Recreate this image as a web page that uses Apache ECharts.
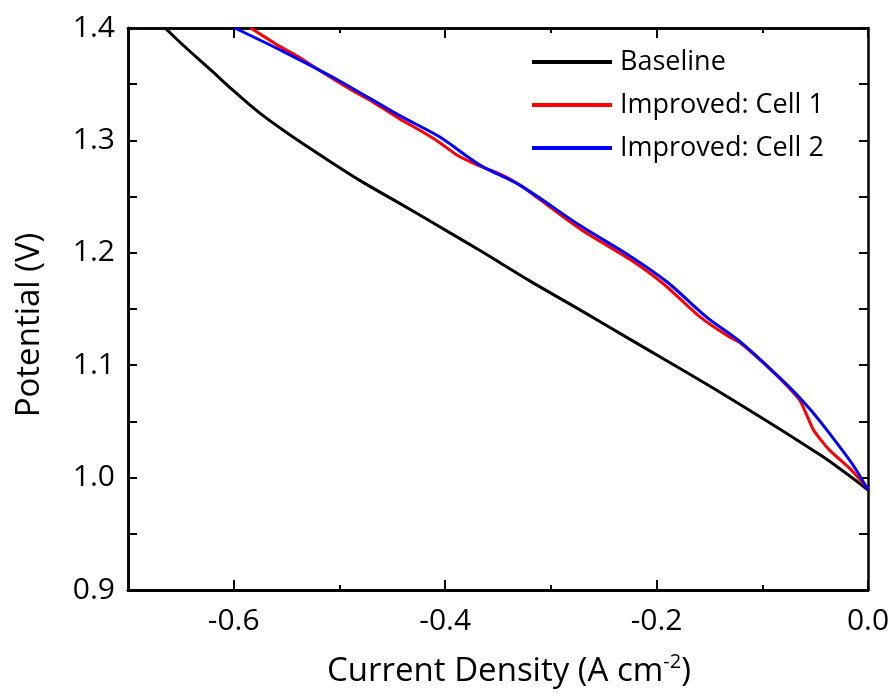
<!DOCTYPE html>
<html>
<head>
<meta charset="utf-8">
<script src="https://cdn.jsdelivr.net/npm/echarts@6/dist/echarts.min.js"></script>
<style>
  html, body { margin: 0; padding: 0; background: #fff; }
  #chart { width: 893px; height: 697px; }
</style>
</head>
<body>
<div id="chart"></div>
<script>
// data
var baseX = [-0.665, -0.647, -0.621, -0.600, -0.575, -0.547, -0.515, -0.480, -0.443, -0.414, -0.367, -0.320, -0.272, -0.225, -0.140, -0.045, 0.000];
var baseY = [1.400, 1.384, 1.362, 1.344, 1.324, 1.305, 1.285, 1.264, 1.244, 1.228, 1.202, 1.175, 1.149, 1.123, 1.076, 1.020, 0.989];

var cell1X = [-0.584, -0.569, -0.559, -0.540, -0.515, -0.487, -0.468, -0.443, -0.424, -0.405, -0.389, -0.367, -0.348, -0.329, -0.272, -0.225, -0.193, -0.159, -0.131, -0.121, -0.099, -0.077, -0.064, -0.052, -0.045, -0.036, -0.017, 0.000];
var cell1Y = [1.400, 1.391, 1.385, 1.375, 1.360, 1.344, 1.334, 1.319, 1.309, 1.298, 1.287, 1.277, 1.270, 1.260, 1.221, 1.194, 1.172, 1.143, 1.125, 1.120, 1.102, 1.082, 1.068, 1.043, 1.034, 1.024, 1.008, 0.990];

var cell2X = [-0.599, -0.553, -0.502, -0.443, -0.405, -0.367, -0.329, -0.272, -0.225, -0.190, -0.153, -0.121, -0.077, -0.055, -0.037, -0.014, 0.000];
var cell2Y = [1.400, 1.379, 1.354, 1.322, 1.303, 1.278, 1.260, 1.224, 1.197, 1.174, 1.143, 1.121, 1.083, 1.061, 1.040, 1.011, 0.989];

var xMajor = [-0.6, -0.4, -0.2, 0.0];
var xMinor = [-0.5, -0.3, -0.1];
var yTicks = [0.9, 0.95, 1.0, 1.05, 1.1, 1.15, 1.2, 1.25, 1.3, 1.35, 1.4];
var yLabels = [0.9, 1.0, 1.1, 1.2, 1.3, 1.4];

function pairs(xs, ys) {
  return xs.map(function (x, i) { return [x, ys[i]]; });
}

var FONT = 'Open Sans';
var axisLine = { show: true, onZero: false, lineStyle: { color: '#000', width: 2.5 } };
var tickStyle = { color: '#000', width: 2 };

// tick-only axes (no labels), laid over the label axes
function tickAx(type, pos, ticks, len) {
  var a = {
    type: 'value', position: pos,
    axisLine: axisLine,
    axisTick: { show: true, inside: true, length: len, customValues: ticks, lineStyle: tickStyle },
    axisLabel: { show: false },
    splitLine: { show: false }
  };
  if (type === 'x') { a.min = -0.7; a.max = 0; } else { a.min = 0.9; a.max = 1.4; }
  return a;
}

var xLabelAxis = {
  type: 'value', position: 'bottom', min: -0.7, max: 0,
  axisLine: axisLine,
  axisTick: { show: false },
  splitLine: { show: false },
  axisLabel: {
    customValues: xMajor, margin: 16,
    fontFamily: FONT, fontSize: 30, color: '#000',
    formatter: function (v) { return v.toFixed(1); }
  },
  name: 'Current Density (A cm{sup|-2})',
  nameLocation: 'middle',
  nameGap: 62,
  nameTextStyle: {
    fontFamily: FONT, fontSize: 33, color: '#000', lineHeight: 40, padding: [0, 0, 0, 22],
    rich: { sup: { fontFamily: FONT, fontSize: 20, lineHeight: 16, verticalAlign: 'top', color: '#000' } }
  }
};

var yLabelAxis = {
  type: 'value', position: 'left', min: 0.9, max: 1.4,
  axisLine: axisLine,
  axisTick: { show: false },
  splitLine: { show: false },
  axisLabel: {
    customValues: yLabels, margin: 13,
    fontFamily: FONT, fontSize: 30, color: '#000',
    formatter: function (v) { return v.toFixed(1); }
  },
  name: 'Potential (V)',
  nameLocation: 'middle',
  nameGap: 82,
  nameTextStyle: { fontFamily: FONT, fontSize: 33, color: '#000', padding: [0, 32, 0, 0] }
};

var chart = echarts.init(document.getElementById('chart'));
chart.setOption({
  backgroundColor: '#fff',
  animation: false,
  grid: { left: 128, right: 25, top: 28, bottom: 101 },
  legend: {
    orient: 'vertical', left: 532, top: 46, padding: 0,
    itemWidth: 80, itemHeight: 4, itemGap: 11, icon: 'rect',
    textStyle: { fontFamily: FONT, fontSize: 27, color: '#000', lineHeight: 32, padding: [0, 0, 0, 3] },
    data: ['Baseline', 'Improved: Cell 1', 'Improved: Cell 2']
  },
  xAxis: [
    xLabelAxis,
    tickAx('x', 'bottom', xMajor, 10),
    tickAx('x', 'bottom', xMinor, 5),
    tickAx('x', 'top', xMajor, 10),
    tickAx('x', 'top', xMinor, 5)
  ],
  yAxis: [
    yLabelAxis,
    tickAx('y', 'left', yTicks, 9),
    tickAx('y', 'right', yTicks, 9)
  ],
  series: [
    { name: 'Baseline', type: 'line', data: pairs(baseX, baseY), showSymbol: false, smooth: 0.3,
      itemStyle: { color: '#000' }, lineStyle: { color: '#000', width: 3 } },
    { name: 'Improved: Cell 1', type: 'line', data: pairs(cell1X, cell1Y), showSymbol: false, smooth: 0.2,
      itemStyle: { color: '#ff0000' }, lineStyle: { color: '#ff0000', width: 3 } },
    { name: 'Improved: Cell 2', type: 'line', data: pairs(cell2X, cell2Y), showSymbol: false, smooth: 0.3,
      itemStyle: { color: '#0000ff' }, lineStyle: { color: '#0000ff', width: 3 } }
  ]
});
</script>
</body>
</html>
